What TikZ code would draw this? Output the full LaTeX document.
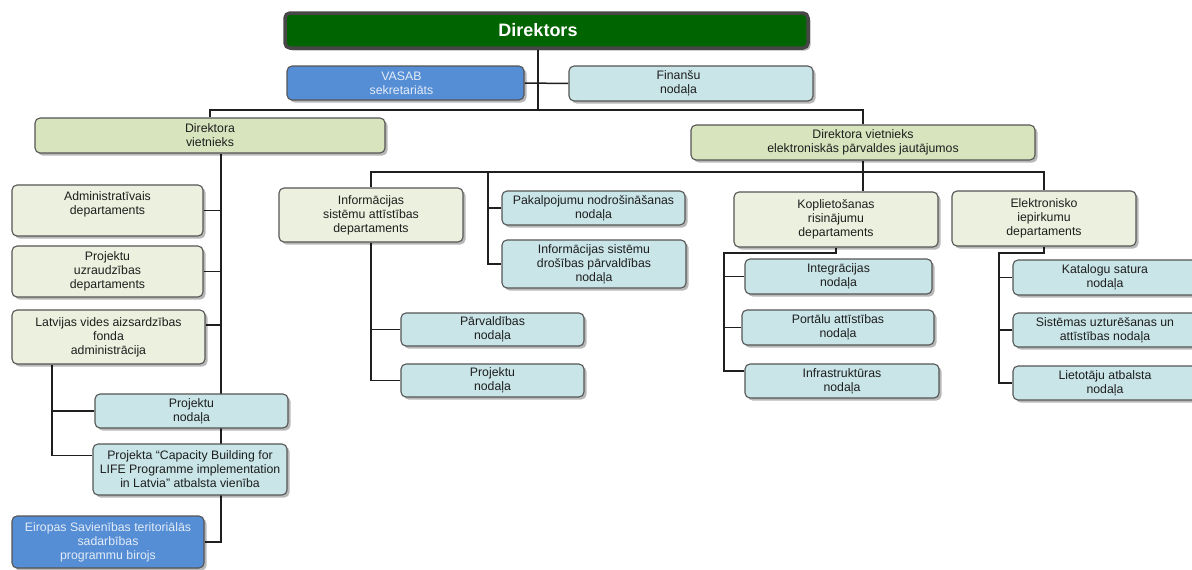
\documentclass[tikz,border=0pt]{standalone}
\usepackage{fontspec}
\setmainfont{Liberation Sans}
\usetikzlibrary{shadows,backgrounds,calc}
\definecolor{dgreen}{HTML}{006400}
\definecolor{olive}{HTML}{D7E4BD}
\definecolor{olivel}{HTML}{EBF1DE}
\definecolor{cyanb}{HTML}{C9E5E8}
\definecolor{blueb}{HTML}{558ED5}
\definecolor{bord}{HTML}{555555}
\definecolor{txt}{HTML}{1E1E1E}
\definecolor{ltxt}{HTML}{E4ECF8}
\tikzset{
  box/.style={draw=bord, line width=1.1pt, rounded corners=5pt, inner sep=0pt,
    align=center, text=txt, font=\fontsize{12.3}{14}\selectfont,
    drop shadow={shadow xshift=2.5pt, shadow yshift=-2.5pt, opacity=0.28, fill=black}},
  dep/.style={box, fill=olive},
  dept/.style={box, fill=olivel},
  unit/.style={box, fill=cyanb},
  blu/.style={box, fill=blueb, text=ltxt},
  topbox/.style={draw=black!72, line width=3.5pt, rounded corners=5pt, inner sep=0pt,
    fill=dgreen, text=white, font=\bfseries\fontsize{18}{20}\selectfont,
    drop shadow={shadow xshift=2.5pt, shadow yshift=-2.5pt, opacity=0.28, fill=black}},
  conn/.style={draw=black!88, line width=1.5pt},
}
\newcommand\bx[7]{\node[#6, minimum width={(#4-#2)*1pt}, minimum height={(#5-#3)*1pt}]
  (#1) at ({(#2+#4)/2},{(#3+#5)/2}) {#7};}
\begin{document}
\begin{tikzpicture}[x=1pt,y=-1pt]
\useasboundingbox (0,0) rectangle (1192,570);

\bx{dir}{285}{13}{808}{48}{topbox}{\hspace*{-17pt}Direktors}
\bx{vasab}{287}{66}{524}{100}{blu}{\hspace*{-8pt}VASAB\\\hspace*{-8pt}sekretariāts}
\bx{fin}{569}{66}{813}{101}{unit}{\hspace*{-25pt}Finanšu\\\hspace*{-25pt}nodaļa}
\bx{dv1}{35}{118}{385}{153}{dep}{Direktora\\vietnieks}
\bx{dv2}{691}{125}{1035}{160}{dep}{Direktora vietnieks\\elektroniskās pārvaldes jautājumos}
\bx{adm}{12}{185}{203}{236}{dept}{Administratīvais\\departaments\\\mbox{}}
\bx{pud}{12}{246}{203}{297}{dept}{Projektu\\uzraudzības\\departaments}
\bx{lvaf}{12}{310}{205}{364}{dept}{Latvijas vides aizsardzības\\fonda\\administrācija}
\bx{pn1}{95}{394}{288}{428}{unit}{Projektu\\nodaļa}
\bx{cap}{93}{444}{287}{495}{unit}{Projekta “Capacity Building for\\LIFE Programme implementation\\in Latvia” atbalsta vienība}
\bx{eu}{12}{516}{204}{568}{blu}{Eiropas Savienības teritoriālās\\sadarbības\\programmu birojs}
\bx{isa}{279}{188}{463}{242}{dept}{Informācijas\\sistēmu attīstības\\departaments}
\bx{pak}{502}{191}{685}{225}{unit}{Pakalpojumu nodrošināšanas\\nodaļa}
\bx{isd}{502}{240}{686}{288}{unit}{Informācijas sistēmu\\drošības pārvaldības\\nodaļa}
\bx{parv}{401}{313}{584}{346}{unit}{Pārvaldības\\nodaļa}
\bx{pn2}{401}{364}{584}{397}{unit}{Projektu\\nodaļa}
\bx{kop}{734}{192}{938}{247}{dept}{Koplietošanas\\risinājumu\\departaments}
\bx{elp}{952}{191}{1136}{246}{dept}{Elektronisko\\iepirkumu\\departaments}
\bx{int}{745}{259}{932}{294}{unit}{Integrācijas\\nodaļa}
\bx{por}{742}{310}{934}{345}{unit}{Portālu attīstības\\nodaļa}
\bx{inf}{745}{364}{939}{398}{unit}{Infrastruktūras\\nodaļa}
\bx{kat}{1013}{260}{1197}{295}{unit}{Katalogu satura\\nodaļa}
\bx{sis}{1013}{313}{1197}{347}{unit}{Sistēmas uzturēšanas un\\attīstības nodaļa}
\bx{lie}{1013}{366}{1197}{400}{unit}{Lietotāju atbalsta\\nodaļa}

\coordinate (j0) at (538,110);
\coordinate (s1) at (221,0);
\coordinate (l1) at (52,0);
\coordinate (b2) at (863,172);
\coordinate (s3) at (488,172);
\coordinate (k1) at (724,253);
\coordinate (e1) at (999,253);
\coordinate (lvc) at ([yshift=12pt]lvaf.east);
\coordinate (capc) at ([yshift=14pt]cap.west);
\coordinate (infc) at ([yshift=10pt]inf.west);

\begin{scope}[on background layer]
\fill[white] (0,0) rectangle (1192,570);
% director
\draw[conn] (dir.south -| j0) -- (j0);
\draw[conn] (vasab.east) -- (fin.west);
\draw[conn] (dv1.north) |- (j0) -| (dv2.north);
% left deputy
\draw[conn] (dv1.south -| s1) -- (s1 |- eu.east) -- (eu.east);
\draw[conn] (adm.east) -- (adm.east -| s1);
\draw[conn] (pud.east) -- (pud.east -| s1);
\draw[conn] (lvc) -- (lvc -| s1);
\draw[conn] (lvaf.south -| l1) |- (capc);
\draw[conn] (pn1.west) -- (pn1.west -| l1);
% right deputy
\draw[conn] (isa.north) |- (b2) -| (elp.north);
\draw[conn] (dv2.south) -- (dv2.south |- kop.north);
\draw[conn] (s3) |- (isd.west);
\draw[conn] (pak.west) -- (pak.west -| s3);
\draw[conn] (isa.south) |- (parv.west);
\draw[conn] (isa.south) |- (pn2.west);
\draw[conn] (kop.south) |- (k1) |- (infc);
\draw[conn] (int.west) -- (int.west -| k1);
\draw[conn] (por.west) -- (por.west -| k1);
\draw[conn] (elp.south) |- (e1) |- (lie.west);
\draw[conn] (kat.west) -- (kat.west -| e1);
\draw[conn] (sis.west) -- (sis.west -| e1);
\end{scope}
\end{tikzpicture}
\end{document}
